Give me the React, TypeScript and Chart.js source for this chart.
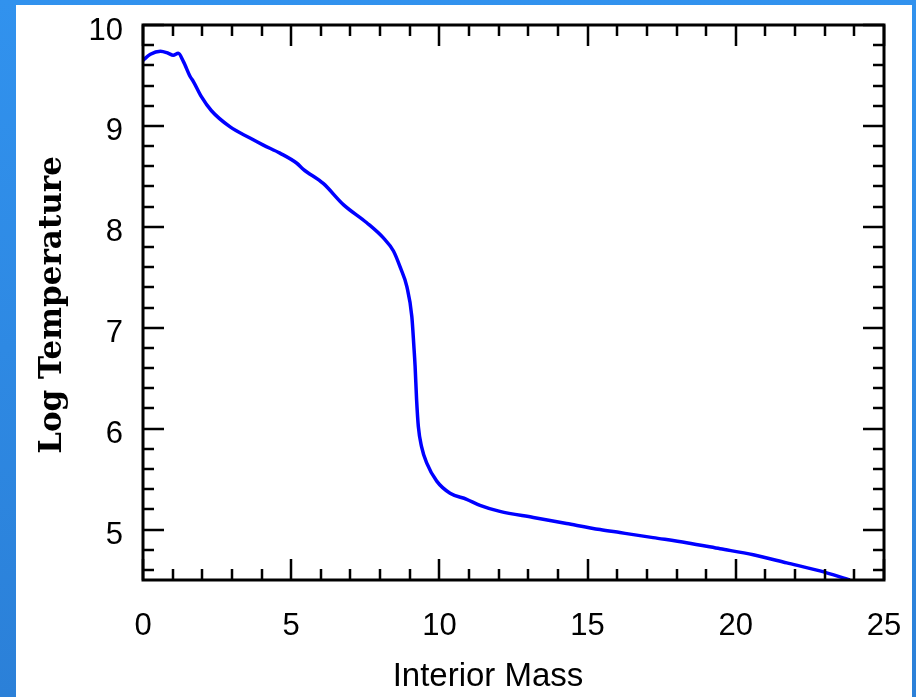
import React, { useEffect, useRef } from "react";
import { Chart, registerables } from "chart.js";

Chart.register(...registerables);

const massValues = [
  0, 0.25, 0.59, 0.85, 1.02, 1.19, 1.36, 1.59, 1.7, 1.97, 2.31, 2.94, 3.61, 4.06, 4.62,
  5.19, 5.41, 6.08, 6.76, 7.55, 8.11, 8.45, 8.69, 8.9, 9.07, 9.14, 9.18, 9.23, 9.29, 9.4,
  9.57, 9.91, 10.36, 10.92, 11.37, 12.04, 13.17, 14.29, 15.42, 16.09, 17.21, 18.34,
  19.47, 20.59, 21.72, 22.84, 23.85,
];
const logTempValues = [
  9.65, 9.71, 9.74, 9.72, 9.7, 9.72, 9.64, 9.49, 9.44, 9.29, 9.15, 8.99, 8.88, 8.81, 8.73,
  8.63, 8.57, 8.43, 8.22, 8.04, 7.89, 7.76, 7.59, 7.41, 7.11, 6.81, 6.62, 6.29, 6.02, 5.82,
  5.66, 5.48, 5.36, 5.3, 5.24, 5.18, 5.12, 5.06, 5.0, 4.97, 4.92, 4.87,
  4.81, 4.75, 4.67, 4.59, 4.5,
];
const xTickLabels = [0, 5, 10, 15, 20, 25];
const yTickLabels = [5, 6, 7, 8, 9, 10];
const xTitle = "Interior Mass";
const yTitle = "Log Temperature";

const TICK_FONT = '"Liberation Sans", Arial, sans-serif';

const framePlugin = {
  id: "frame",
  beforeDraw(chart: any) {
    const { ctx, width, height } = chart;
    ctx.save();
    const g = ctx.createLinearGradient(0, 0, 0, height);
    g.addColorStop(0, "#3192ee");
    g.addColorStop(1, "#2b80d8");
    ctx.fillStyle = g;
    ctx.fillRect(0, 0, width, height);
    ctx.fillStyle = "#ffffff";
    ctx.fillRect(16, 5, 896, height - 5);
    ctx.restore();
  },
  afterDraw(chart: any) {
    const { ctx, chartArea } = chart;
    const { left, right, top, bottom } = chartArea;
    const xs = chart.scales.x;
    const ys = chart.scales.y;
    ctx.save();
    ctx.strokeStyle = "#000000";
    ctx.lineWidth = 2.5;
    ctx.beginPath();
    for (let v = xs.min; v <= xs.max + 1e-9; v += 1) {
      const px = Math.round(xs.getPixelForValue(v));
      const major = Math.abs(v % 5) < 1e-9;
      const len = major ? 21 : 11;
      ctx.moveTo(px, bottom);
      ctx.lineTo(px, bottom - len);
      ctx.moveTo(px, top);
      ctx.lineTo(px, top + len);
    }
    for (let i = 0; ; i++) {
      const v = 4.6 + i * 0.2;
      if (v > ys.max + 1e-9) break;
      const px = Math.round(ys.getPixelForValue(v));
      const major = Math.abs(v - Math.round(v)) < 1e-6;
      const len = major ? 21 : 11;
      ctx.moveTo(left, px);
      ctx.lineTo(left + len, px);
      ctx.moveTo(right, px);
      ctx.lineTo(right - len, px);
    }
    ctx.stroke();
    ctx.lineWidth = 3;
    ctx.strokeRect(left, top, right - left, bottom - top);

    ctx.fillStyle = "#000000";
    ctx.font = '33px ' + TICK_FONT;
    ctx.textAlign = "center";
    ctx.textBaseline = "middle";
    ctx.fillText(xTitle, 488, 677);

    ctx.translate(53, 305);
    ctx.rotate(-Math.PI / 2);
    ctx.font = 'bold 31px "DejaVu Serif", serif';
    ctx.fillText(yTitle, 0, 0);
    ctx.restore();
  },
};

const zeroPad = (s: any) => {
  s.paddingTop = 0;
  s.paddingBottom = 0;
  s.paddingLeft = 0;
  s.paddingRight = 0;
};

export default function App() {
  const ref = useRef<HTMLCanvasElement | null>(null);
  useEffect(() => {
    if (!ref.current) return;
    const data = massValues.map((m, i) => ({ x: m, y: logTempValues[i] }));
    const chart = new Chart(ref.current, {
      type: "line",
      data: {
        datasets: [
          {
            data,
            borderColor: "#0000ff",
            borderWidth: 3.5,
            pointRadius: 0,
            cubicInterpolationMode: "monotone",
            fill: false,
          },
        ],
      },
      options: {
        animation: false,
        responsive: false,
        maintainAspectRatio: false,
        layout: { padding: { top: 25, right: 32, left: 0, bottom: 0 } },
        plugins: { legend: { display: false }, tooltip: { enabled: false } },
        scales: {
          x: {
            type: "linear",
            min: 0,
            max: 25,
            grid: { display: false, drawTicks: false },
            border: { display: false },
            afterBuildTicks: (s: any) => {
              s.ticks = xTickLabels.map((v) => ({ value: v }));
            },
            afterFit: (s: any) => {
              s.height = 117;
              zeroPad(s);
            },
            ticks: {
              color: "#000000",
              font: { family: TICK_FONT, size: 31 },
              padding: 28,
              maxRotation: 0,
            },
          },
          y: {
            type: "linear",
            min: 4.5,
            max: 10,
            grid: { display: false, drawTicks: false },
            border: { display: false },
            afterBuildTicks: (s: any) => {
              s.ticks = yTickLabels.map((v) => ({ value: v }));
            },
            afterFit: (s: any) => {
              s.width = 143;
              zeroPad(s);
            },
            ticks: {
              color: "#000000",
              font: { family: TICK_FONT, size: 31 },
              padding: 20,
              labelOffset: 6,
            },
          },
        },
      },
      plugins: [framePlugin],
    });
    return () => chart.destroy();
  }, []);
  return (
    <div style={{ position: "fixed", left: 0, top: 0, width: 916, height: 697 }}>
      <canvas ref={ref} width={916} height={697} style={{ width: 916, height: 697, display: "block" }} />
    </div>
  );
}
